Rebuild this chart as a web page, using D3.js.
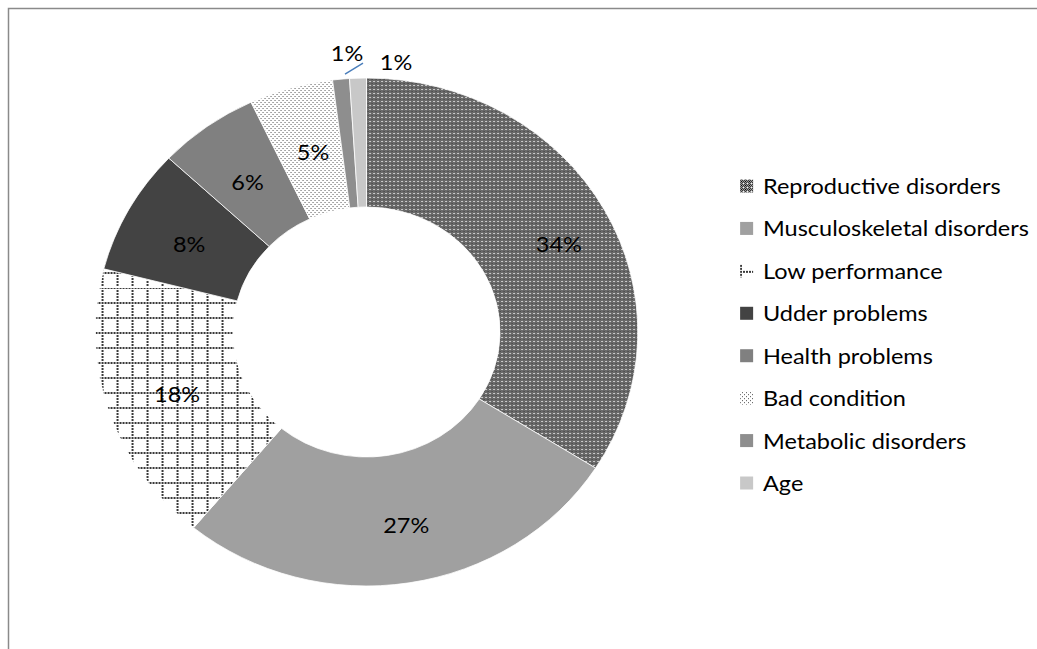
<!DOCTYPE html>
<html>
<head>
<meta charset="utf-8">
<script src="https://cdn.jsdelivr.net/npm/d3@7"></script>
<style>
  html, body { margin: 0; padding: 0; background: #ffffff; }
  svg { display: block; }
</style>
</head>
<body>
<script>
// Reasons for culling, share of all culled cows
const categories = [
  "Reproductive disorders",
  "Musculoskeletal disorders",
  "Low performance",
  "Udder problems",
  "Health problems",
  "Bad condition",
  "Metabolic disorders",
  "Age"
];
const shares = [34, 27, 18, 8, 6, 5, 1, 1];
const percentLabels = ["34%", "27%", "18%", "8%", "6%", "5%", "1%", "1%"];
const fills = [
  "url(#pat-checker)", "#a0a0a0", "url(#pat-grid)", "#434343",
  "#808080", "url(#pat-dots)", "#8e8e8e", "#c8c8c8"
];

// Layout
const W = 1037, H = 649;
const sx = 1.068;                 // horizontal stretch of the whole drawing
const cx = 343.2, cy = 332;       // donut centre (unstretched units)
const rOuter = 254, rInner = 125;
const fontFamily = "Lato, 'Open Sans', sans-serif";
const legendX = 693, legendTextX = 714.4, legendTop = 186, legendStep = 42.43;

// Labels of the two large slices sit a little further out than the ring middle
const labelNudge = { 0: [15, 3], 1: [8, 6], 2: [3, 4], 3: [0, 3], 4: [0, 3], 5: [3, 2] };

// Small slices get their label outside the ring (screen px from the outer edge)
const outsideLabel = {
  6: { dx: 6, dy: -26, leader: [[4, -5], [22, -16]] },
  7: { dx: 38, dy: -16 }
};

const svg = d3.select("body").append("svg")
  .attr("width", W).attr("height", H);

// Fill patterns (tiles in screen pixels; the transform undoes the stretch)
const defs = svg.append("defs");
const unstretch = `scale(${1 / sx},1)`;

function pattern(id, size, extra) {
  return defs.append("pattern")
    .attr("id", id)
    .attr("patternUnits", "userSpaceOnUse")
    .attr("width", size).attr("height", size)
    .attr("patternTransform", unstretch + (extra || ""));
}

function px(p, x, y, c, w, h) {
  p.append("rect").attr("x", x).attr("y", y)
    .attr("width", w || 1).attr("height", h || 1)
    .attr("fill", c).attr("shape-rendering", "crispEdges");
}

// dense checker
{
  const p = pattern("pat-checker", 4);
  const dark = "#383838", light = "#9c9c9c";
  for (let y = 0; y < 4; y++) for (let x = 0; x < 4; x++) {
    let c = (x + y) % 2 === 0 ? dark : light;
    if (x === 3 && y === 1) c = "#f4f4f4";
    if (x === 1 && y === 3) c = "#0a0a0a";
    px(p, x, y, c);
  }
}
// dotted grid
{
  const p = pattern("pat-grid", 15, " translate(5,0)");
  px(p, 0, 0, "#ffffff", 15, 15);
  for (let t = 0; t < 15; t += 3) {
    px(p, t, 0, "#3a3a3a", 2, 2);
    if (t > 0) px(p, 0, t, "#3a3a3a", 2, 2);
  }
}
// fine dots
{
  const p = pattern("pat-dots", 4);
  px(p, 0, 0, "#ffffff", 4, 4);
  [[0, 0], [2, 2]].forEach(([x, y]) => px(p, x, y, "#555555"));
}

// Chart frame
svg.append("path")
  .attr("d", `M8.5,${H} V8.5 H${W}`)
  .attr("fill", "none").attr("stroke", "#8a8a8a").attr("stroke-width", 1.5);

const g = svg.append("g").attr("transform", `scale(${sx},1)`);

const data = categories.map((c, i) => ({ name: c, value: shares[i], label: percentLabels[i], fill: fills[i], i }));

const pie = d3.pie().sort(null).value(d => d.value);
const arcs = pie(data);
const arc = d3.arc().innerRadius(rInner).outerRadius(rOuter);
const arcMid = d3.arc().innerRadius((rInner + rOuter) / 2).outerRadius((rInner + rOuter) / 2);
const arcEdge = d3.arc().innerRadius(rOuter).outerRadius(rOuter);

const donut = g.append("g").attr("transform", `translate(${cx},${cy})`);

donut.selectAll("path.slice")
  .data(arcs)
  .join("path")
  .attr("class", "slice")
  .attr("d", arc)
  .attr("fill", d => d.data.fill)
  .attr("stroke", "#ffffff")
  .attr("stroke-width", 0.75);

// Percent labels
arcs.forEach(d => {
  const o = outsideLabel[d.data.i];
  let x, y;
  if (o) {
    const [ex, ey] = arcEdge.centroid(d);
    x = ex + o.dx / sx; y = ey + o.dy;
    if (o.leader) {
      donut.append("line")
        .attr("x1", ex + o.leader[0][0] / sx).attr("y1", ey + o.leader[0][1])
        .attr("x2", ex + o.leader[1][0] / sx).attr("y2", ey + o.leader[1][1])
        .attr("stroke", "#4a7ebb").attr("stroke-width", 1.3);
    }
  } else {
    [x, y] = arcMid.centroid(d);
    const n = labelNudge[d.data.i] || [0, 0];
    x += n[0] / sx; y += n[1];
  }
  donut.append("text")
    .attr("x", x).attr("y", y).attr("dy", "0.36em")
    .attr("text-anchor", "middle")
    .attr("font-family", fontFamily).attr("font-size", 22)
    .attr("fill", "#000000")
    .text(d.data.label);
});

// Legend
const legend = g.append("g");
const rows = legend.selectAll("g.item")
  .data(data)
  .join("g")
  .attr("class", "item")
  .attr("transform", (d, i) => `translate(0,${legendTop + i * legendStep})`);

rows.append("rect")
  .attr("x", legendX).attr("y", -6.5)
  .attr("width", 13 / sx).attr("height", 13)
  .attr("fill", d => d.fill);

rows.append("text")
  .attr("x", legendTextX).attr("y", 0).attr("dy", "0.36em")
  .attr("font-family", fontFamily).attr("font-size", 22)
  .attr("fill", "#000000")
  .text(d => d.name);
</script>
</body>
</html>
